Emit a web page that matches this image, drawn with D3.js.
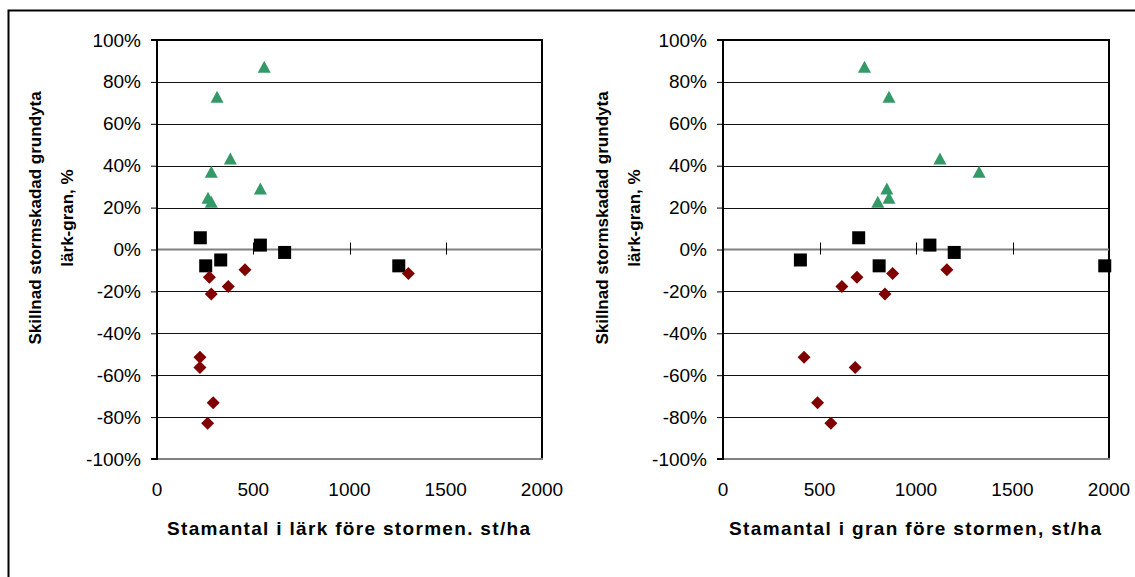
<!DOCTYPE html>
<html><head><meta charset="utf-8">
<script src="https://cdn.jsdelivr.net/npm/d3@7"></script>
<style>
html,body{margin:0;padding:0;background:#fff;}
svg{display:block;font-family:"Liberation Sans",Arial,sans-serif;}
</style></head>
<body>
<svg id="c" width="1135" height="577"></svg>
<script>
// ---- data ----
const yTicks = [-1, -0.8, -0.6, -0.4, -0.2, 0, 0.2, 0.4, 0.6, 0.8, 1];
const xTicks = [0, 500, 1000, 1500, 2000];
const yTitleLines = ["Skillnad stormskadad grundyta", "lärk-gran, %"];
const xTitles = ["Stamantal i lärk före stormen. st/ha", "Stamantal i gran före stormen, st/ha"];

// series: triangles (green)
const triY    = [0.867, 0.724, 0.43, 0.366, 0.286, 0.242, 0.223];
const triLark = [557, 312, 381, 282, 537, 265, 282];
const triGran = [733, 860, 1124, 1327, 849, 860, 802];
// series: squares (black)
const sqY    = [0.056, 0.021, -0.014, -0.05, -0.078, -0.078];
const sqLark = [225, 537, 663, 331, 253, 1256];
const sqGran = [703, 1072, 1198, 401, 809, 1978];
// series: diamonds (dark red)
const diaY    = [-0.097, -0.115, -0.132, -0.177, -0.213, -0.514, -0.563, -0.732, -0.829];
const diaLark = [457, 1306, 272, 370, 282, 223, 223, 292, 263];
const diaGran = [1160, 879, 694, 616, 839, 420, 685, 490, 559];

const svg = d3.select("#c");

// outer frame
svg.append("path").attr("d","M8.5,577 V10.5 H1135").attr("fill","none").attr("stroke","#000").attr("stroke-width",2);

const panels = [
  {x0:157, x1:542, titleX:[35,67], xTitle:xTitles[0], xTitleRange:[167,530], key:"lark"},
  {x0:723, x1:1109, titleX:[602,634], xTitle:xTitles[1], xTitleRange:[729,1101], key:"gran"}
];
const yTop = 40, yBot = 459;

panels.forEach(p => {
  const x = d3.scaleLinear().domain([0,2000]).range([p.x0, p.x1]);
  const y = d3.scaleLinear().domain([-1,1]).range([yBot, yTop]);
  const g = svg.append("g");

  // gridlines
  g.selectAll("line.grid").data(yTicks.filter(t => t !== 0 && t !== -1 && t !== 1)).join("line")
    .attr("x1", p.x0).attr("x2", p.x1)
    .attr("y1", d => Math.round(y(d)) + 0.5).attr("y2", d => Math.round(y(d)) + 0.5)
    .attr("stroke", "#111").attr("stroke-width", 1);

  // plot border: top, right black; bottom gray
  g.append("line").attr("x1", p.x0).attr("x2", p.x1+1).attr("y1", y(1)).attr("y2", y(1)).attr("stroke","#000").attr("stroke-width",2);
  g.append("line").attr("x1", p.x1).attr("x2", p.x1).attr("y1", y(1)).attr("y2", y(-1)).attr("stroke","#000").attr("stroke-width",2);
  g.append("line").attr("x1", p.x0).attr("x2", p.x1+1).attr("y1", y(-1)).attr("y2", y(-1)).attr("stroke","#808080").attr("stroke-width",2);

  // zero line (x axis) with crossing ticks
  g.append("line").attr("x1", p.x0).attr("x2", p.x1).attr("y1", y(0)).attr("y2", y(0)).attr("stroke","#808080").attr("stroke-width",2);
  g.selectAll("line.xt").data(xTicks.slice(1, -1)).join("line")
    .attr("x1", d => Math.round(x(d)) + 0.5).attr("x2", d => Math.round(x(d)) + 0.5)
    .attr("y1", y(0) - 7).attr("y2", y(0) + 5)
    .attr("stroke", "#000").attr("stroke-width", 1);

  // y axis
  const yAxis = d3.axisLeft(y).tickValues(yTicks).tickSize(6).tickPadding(10)
    .tickFormat(d => Math.round(d*100) + "%");
  const ya = g.append("g").attr("transform", `translate(${p.x0},0)`).call(yAxis);
  ya.select(".domain").attr("stroke","#000").attr("stroke-width",2).attr("d", `M-6,${y(1)}H0V${y(-1)}H-6`);
  ya.selectAll(".tick line").attr("stroke","#000").attr("stroke-width",1);
  ya.selectAll(".tick text").attr("font-size", 19).attr("fill","#000").attr("font-family","Liberation Sans, Arial, sans-serif");

  // x tick labels at bottom
  g.selectAll("text.xl").data(xTicks).join("text")
    .attr("x", d => x(d)).attr("y", 496)
    .attr("text-anchor","middle").attr("font-size",19).attr("fill","#000")
    .text(d => d);

  // x title
  g.append("text").attr("x", p.xTitleRange[0]).attr("y", 535)
    .attr("font-size",19).attr("font-weight","bold").attr("fill","#000")
    .attr("textLength", p.xTitleRange[1]-p.xTitleRange[0]).attr("lengthAdjust","spacing")
    .text(p.xTitle);

  // y title (rotated, two lines)
  yTitleLines.forEach((t, i) => {
    g.append("text")
      .attr("transform", `translate(${p.titleX[i]},${218}) rotate(-90)`)
      .attr("text-anchor","middle").attr("dominant-baseline","central")
      .attr("font-size",17).attr("font-weight","bold").attr("fill","#000")
      .text(t);
  });

  const xs = p.key === "lark" ? {tri:triLark, sq:sqLark, dia:diaLark} : {tri:triGran, sq:sqGran, dia:diaGran};

  // squares
  g.selectAll("rect.sq").data(sqY.map((v,i)=>({x:xs.sq[i], y:v}))).join("rect")
    .attr("x", d => x(d.x)-6.5).attr("y", d => y(d.y)-6.5).attr("width",13).attr("height",13)
    .attr("fill","#000");
  // diamonds
  g.selectAll("path.dia").data(diaY.map((v,i)=>({x:xs.dia[i], y:v}))).join("path")
    .attr("d", d => `M${x(d.x)},${y(d.y)-6.5}L${x(d.x)+6.5},${y(d.y)}L${x(d.x)},${y(d.y)+6.5}L${x(d.x)-6.5},${y(d.y)}Z`)
    .attr("fill","#800000");
  // triangles
  g.selectAll("path.tri").data(triY.map((v,i)=>({x:xs.tri[i], y:v}))).join("path")
    .attr("d", d => `M${x(d.x)},${y(d.y)-7}L${x(d.x)+6.5},${y(d.y)+5}L${x(d.x)-6.5},${y(d.y)+5}Z`)
    .attr("fill","#339966");
});
</script>
</body></html>
